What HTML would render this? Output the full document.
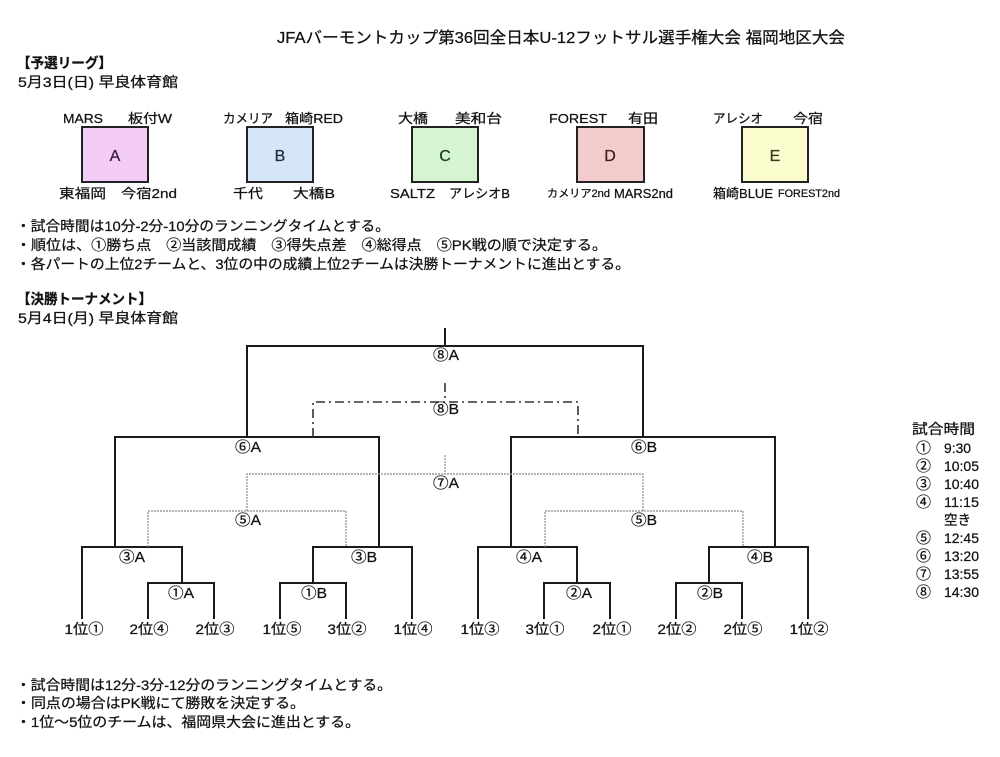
<!DOCTYPE html>
<html>
<head>
<meta charset="utf-8">
<style>
html,body{margin:0;padding:0;background:#fff;}
svg{display:block;}
text{font-family:"Liberation Sans","Noto Sans CJK JP",sans-serif;fill:#111;stroke:#111;stroke-width:0.25;}
</style>
</head>
<body>
<svg width="1000" height="757" viewBox="0 0 1000 757" xmlns="http://www.w3.org/2000/svg">
<rect x="0" y="0" width="1000" height="757" fill="#fff"/>

<!-- Title -->
<text x="277" y="43" font-size="16" textLength="568" lengthAdjust="spacingAndGlyphs">JFAバーモントカップ第36回全日本U-12フットサル選手権大会 福岡地区大会</text>

<!-- Preliminary header -->
<text x="17" y="68" font-size="14" font-weight="bold" textLength="95" lengthAdjust="spacingAndGlyphs">【予選リーグ】</text>
<text x="18" y="87" font-size="14" textLength="160" lengthAdjust="spacingAndGlyphs">5月3日(日) 早良体育館</text>

<!-- Group boxes -->
<rect x="82" y="127" width="66" height="55" fill="#f4cdf6" stroke="#222" stroke-width="2"/>
<rect x="247" y="127" width="66" height="55" fill="#d5e6f8" stroke="#222" stroke-width="2"/>
<rect x="412" y="127" width="66" height="55" fill="#d4f5d0" stroke="#222" stroke-width="2"/>
<rect x="577" y="127" width="67" height="55" fill="#f3cbcc" stroke="#222" stroke-width="2"/>
<rect x="742" y="127" width="66" height="55" fill="#fafccd" stroke="#222" stroke-width="2"/>
<text x="115" y="161" font-size="16" text-anchor="middle" style="fill:#3a1a40;stroke:#3a1a40">A</text>
<text x="280" y="161" font-size="16" text-anchor="middle" style="fill:#1a2a40;stroke:#1a2a40">B</text>
<text x="445" y="161" font-size="16" text-anchor="middle" style="fill:#1a3a1a;stroke:#1a3a1a">C</text>
<text x="610" y="161" font-size="16" text-anchor="middle" style="fill:#401a1a;stroke:#401a1a">D</text>
<text x="775" y="161" font-size="16" text-anchor="middle" style="fill:#3a3a1a;stroke:#3a3a1a">E</text>

<!-- Group labels -->
<g font-size="13">
<text x="63" y="123" textLength="40" lengthAdjust="spacingAndGlyphs">MARS</text>
<text x="128" y="123" textLength="44" lengthAdjust="spacingAndGlyphs">板付W</text>
<text x="223" y="123" textLength="50" lengthAdjust="spacingAndGlyphs">カメリア</text>
<text x="285" y="123" textLength="58" lengthAdjust="spacingAndGlyphs">箱崎RED</text>
<text x="398" y="123" textLength="30" lengthAdjust="spacingAndGlyphs">大橋</text>
<text x="455" y="123" textLength="47" lengthAdjust="spacingAndGlyphs">美和台</text>
<text x="549" y="123" textLength="58" lengthAdjust="spacingAndGlyphs">FOREST</text>
<text x="628" y="123" textLength="30" lengthAdjust="spacingAndGlyphs">有田</text>
<text x="713" y="123" textLength="50" lengthAdjust="spacingAndGlyphs">アレシオ</text>
<text x="793" y="123" textLength="30" lengthAdjust="spacingAndGlyphs">今宿</text>

<text x="59" y="198" textLength="47" lengthAdjust="spacingAndGlyphs">東福岡</text>
<text x="121" y="198" textLength="56" lengthAdjust="spacingAndGlyphs">今宿2nd</text>
<text x="233" y="198" textLength="30" lengthAdjust="spacingAndGlyphs">千代</text>
<text x="293" y="198" textLength="42" lengthAdjust="spacingAndGlyphs">大橋B</text>
<text x="390" y="198" textLength="45" lengthAdjust="spacingAndGlyphs">SALTZ</text>
<text x="449" y="198" textLength="61" lengthAdjust="spacingAndGlyphs">アレシオB</text>
<text x="547" y="197" font-size="11" textLength="63" lengthAdjust="spacingAndGlyphs">カメリア2nd</text>
<text x="614" y="198" textLength="59" lengthAdjust="spacingAndGlyphs">MARS2nd</text>
<text x="713" y="198" textLength="60" lengthAdjust="spacingAndGlyphs">箱崎BLUE</text>
<text x="778" y="197" font-size="11" textLength="62" lengthAdjust="spacingAndGlyphs">FOREST2nd</text>
</g>

<!-- Notes -->
<g font-size="14">
<text x="16" y="231" textLength="374" lengthAdjust="spacingAndGlyphs">・試合時間は10分-2分-10分のランニングタイムとする。</text>
<text x="16" y="250" textLength="591" lengthAdjust="spacingAndGlyphs">・順位は、①勝ち点　②当該間成績　③得失点差　④総得点　⑤PK戦の順で決定する。</text>
<text x="16" y="269" textLength="614" lengthAdjust="spacingAndGlyphs">・各パートの上位2チームと、3位の中の成績上位2チームは決勝トーナメントに進出とする。</text>
</g>

<text x="17" y="304" font-size="14" font-weight="bold" textLength="135" lengthAdjust="spacingAndGlyphs">【決勝トーナメント】</text>
<text x="18" y="323" font-size="14" textLength="160" lengthAdjust="spacingAndGlyphs">5月4日(月) 早良体育館</text>

<!-- Bracket solid lines -->
<path fill="none" stroke="#1a1a1a" stroke-width="2" d="
M445 328 V346
M247 437 V346 H643 V437
M115 547 V437 H379 V547
M511 547 V437 H775 V547
M82 619 V547 H182 V583
M148 619 V583 H214 V619
M313 583 V547 H412 V619
M280 619 V583 H346 V619
M478 619 V547 H577 V583
M544 619 V583 H610 V619
M709 583 V547 H808 V619
M676 619 V583 H742 V619"/>

<!-- Dash-dot (3rd place) -->
<path fill="none" stroke="#333" stroke-width="1.6" stroke-dasharray="9 4 2 4" d="
M445 383 V402
M313 437 V402 H578 V437"/>

<!-- Dotted gray -->
<path fill="none" stroke="#8a8a8a" stroke-width="1.2" stroke-dasharray="2 1" d="
M445 455 V474
M247 511 V474 H643 V511
M148 547 V511 H346 V547
M545 547 V511 H743 V547"/>

<!-- Match labels -->
<g font-size="15" text-anchor="middle">
<text x="446" y="360" textLength="26" lengthAdjust="spacingAndGlyphs">⑧A</text>
<text x="446" y="414" textLength="26" lengthAdjust="spacingAndGlyphs">⑧B</text>
<text x="446" y="488" textLength="26" lengthAdjust="spacingAndGlyphs">⑦A</text>
<text x="248" y="452" textLength="26" lengthAdjust="spacingAndGlyphs">⑥A</text>
<text x="644" y="452" textLength="26" lengthAdjust="spacingAndGlyphs">⑥B</text>
<text x="248" y="525" textLength="26" lengthAdjust="spacingAndGlyphs">⑤A</text>
<text x="644" y="525" textLength="26" lengthAdjust="spacingAndGlyphs">⑤B</text>
<text x="132" y="562" textLength="26" lengthAdjust="spacingAndGlyphs">③A</text>
<text x="364" y="562" textLength="26" lengthAdjust="spacingAndGlyphs">③B</text>
<text x="529" y="562" textLength="26" lengthAdjust="spacingAndGlyphs">④A</text>
<text x="760" y="562" textLength="26" lengthAdjust="spacingAndGlyphs">④B</text>
<text x="181" y="598" textLength="26" lengthAdjust="spacingAndGlyphs">①A</text>
<text x="314" y="598" textLength="26" lengthAdjust="spacingAndGlyphs">①B</text>
<text x="579" y="598" textLength="26" lengthAdjust="spacingAndGlyphs">②A</text>
<text x="710" y="598" textLength="26" lengthAdjust="spacingAndGlyphs">②B</text>
</g>
<g font-size="14" text-anchor="middle">
<text x="84" y="634" textLength="39" lengthAdjust="spacingAndGlyphs">1位①</text>
<text x="149" y="634" textLength="39" lengthAdjust="spacingAndGlyphs">2位④</text>
<text x="215" y="634" textLength="39" lengthAdjust="spacingAndGlyphs">2位③</text>
<text x="282" y="634" textLength="39" lengthAdjust="spacingAndGlyphs">1位⑤</text>
<text x="347" y="634" textLength="39" lengthAdjust="spacingAndGlyphs">3位②</text>
<text x="413" y="634" textLength="39" lengthAdjust="spacingAndGlyphs">1位④</text>
<text x="480" y="634" textLength="39" lengthAdjust="spacingAndGlyphs">1位③</text>
<text x="545" y="634" textLength="39" lengthAdjust="spacingAndGlyphs">3位①</text>
<text x="612" y="634" textLength="39" lengthAdjust="spacingAndGlyphs">2位①</text>
<text x="677" y="634" textLength="39" lengthAdjust="spacingAndGlyphs">2位②</text>
<text x="743" y="634" textLength="39" lengthAdjust="spacingAndGlyphs">2位⑤</text>
<text x="809" y="634" textLength="39" lengthAdjust="spacingAndGlyphs">1位②</text>
</g>

<!-- Time list -->
<g font-size="14">
<text x="912" y="434" textLength="63" lengthAdjust="spacingAndGlyphs">試合時間</text>
<text x="916" y="453" font-size="15">①</text><text x="944" y="453" textLength="27" lengthAdjust="spacingAndGlyphs">9:30</text>
<text x="916" y="471" font-size="15">②</text><text x="944" y="471" textLength="35" lengthAdjust="spacingAndGlyphs">10:05</text>
<text x="916" y="489" font-size="15">③</text><text x="944" y="489" textLength="35" lengthAdjust="spacingAndGlyphs">10:40</text>
<text x="916" y="507" font-size="15">④</text><text x="944" y="507" textLength="35" lengthAdjust="spacingAndGlyphs">11:15</text>
<text x="944" y="525" textLength="27" lengthAdjust="spacingAndGlyphs">空き</text>
<text x="916" y="543" font-size="15">⑤</text><text x="944" y="543" textLength="35" lengthAdjust="spacingAndGlyphs">12:45</text>
<text x="916" y="561" font-size="15">⑥</text><text x="944" y="561" textLength="35" lengthAdjust="spacingAndGlyphs">13:20</text>
<text x="916" y="579" font-size="15">⑦</text><text x="944" y="579" textLength="35" lengthAdjust="spacingAndGlyphs">13:55</text>
<text x="916" y="597" font-size="15">⑧</text><text x="944" y="597" textLength="35" lengthAdjust="spacingAndGlyphs">14:30</text>
</g>

<!-- Bottom notes -->
<g font-size="14">
<text x="16" y="690" textLength="376" lengthAdjust="spacingAndGlyphs">・試合時間は12分-3分-12分のランニングタイムとする。</text>
<text x="16" y="708" textLength="289" lengthAdjust="spacingAndGlyphs">・同点の場合はPK戦にて勝敗を決定する。</text>
<text x="16" y="727" textLength="344" lengthAdjust="spacingAndGlyphs">・1位～5位のチームは、福岡県大会に進出とする。</text>
</g>
</svg>
</body>
</html>
